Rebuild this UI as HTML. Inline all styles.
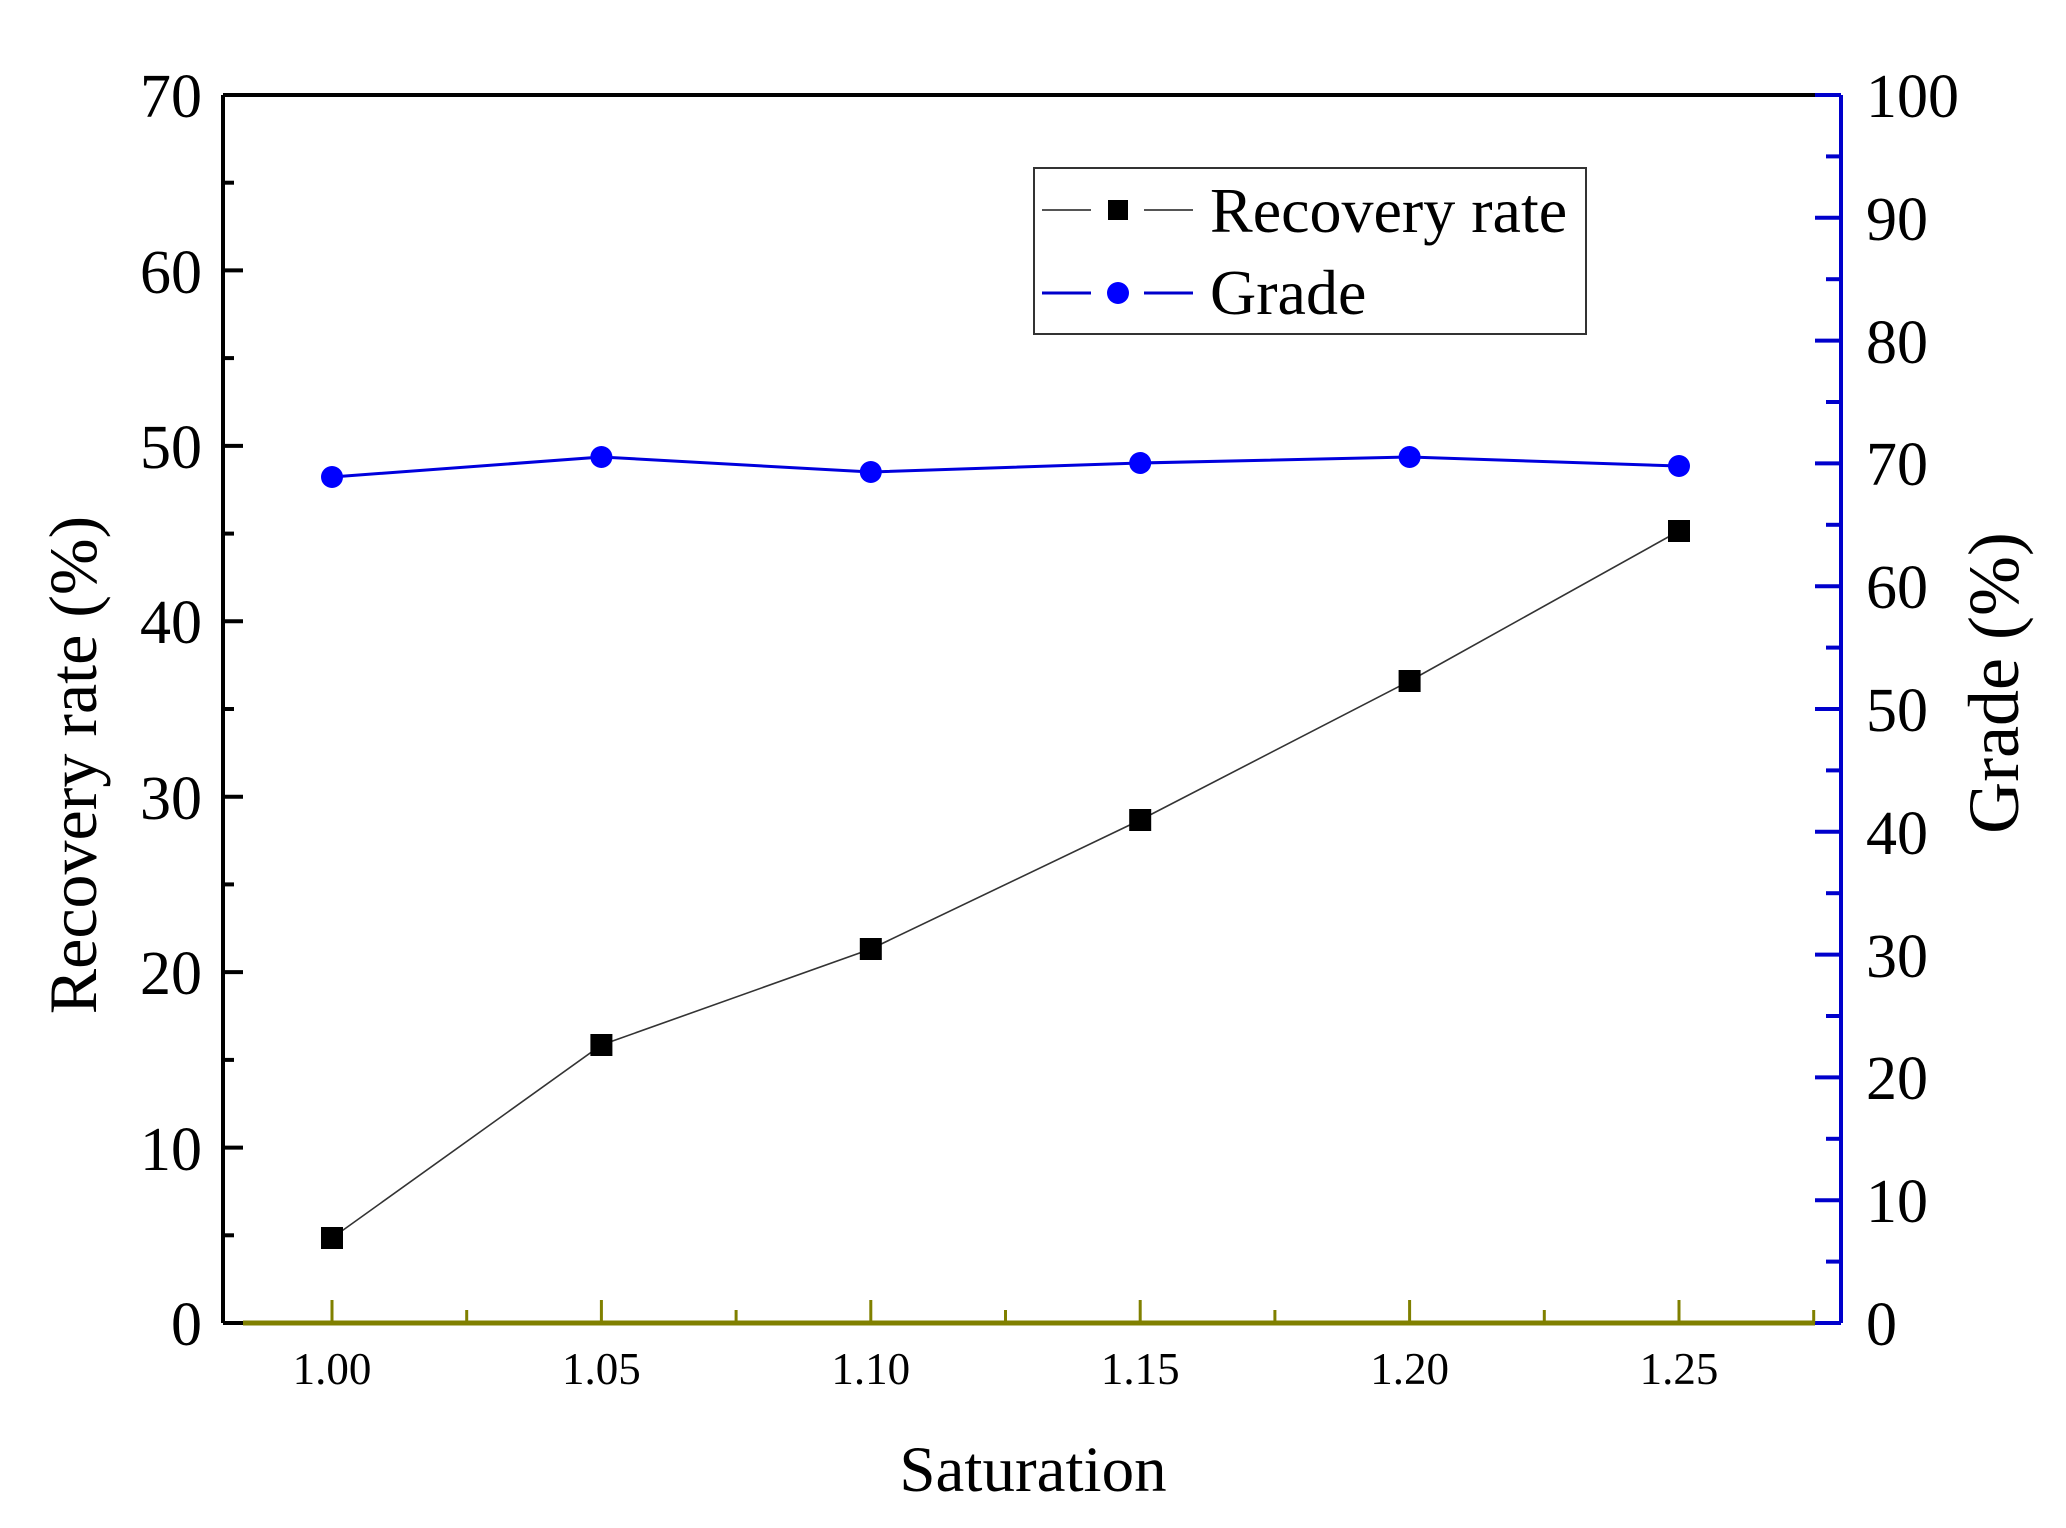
<!DOCTYPE html>
<html><head><meta charset="utf-8"><style>html,body{margin:0;padding:0;background:#fff}svg{display:block}</style></head>
<body>
<svg width="2066" height="1528" viewBox="0 0 2066 1528" xmlns="http://www.w3.org/2000/svg" font-family="Liberation Serif, serif">
<rect width="2066" height="1528" fill="#fff"/>
<g stroke="#000" stroke-width="4">
<line x1="223" y1="95" x2="1841" y2="95" stroke-width="4"/>
<line x1="223" y1="95" x2="223" y2="1323"/>
<line x1="223" y1="1323" x2="243" y2="1323"/>
<line x1="223" y1="1147.6" x2="243" y2="1147.6"/>
<line x1="223" y1="972.1" x2="243" y2="972.1"/>
<line x1="223" y1="796.7" x2="243" y2="796.7"/>
<line x1="223" y1="621.3" x2="243" y2="621.3"/>
<line x1="223" y1="445.9" x2="243" y2="445.9"/>
<line x1="223" y1="270.4" x2="243" y2="270.4"/>
<line x1="223" y1="1235.3" x2="234" y2="1235.3"/>
<line x1="223" y1="1059.9" x2="234" y2="1059.9"/>
<line x1="223" y1="884.4" x2="234" y2="884.4"/>
<line x1="223" y1="709" x2="234" y2="709"/>
<line x1="223" y1="533.6" x2="234" y2="533.6"/>
<line x1="223" y1="358.1" x2="234" y2="358.1"/>
<line x1="223" y1="182.7" x2="234" y2="182.7"/>
</g>
<g font-size="62" text-anchor="end" fill="#000">
<text x="202" y="1345">0</text><text x="202" y="1170">10</text><text x="202" y="994">20</text>
<text x="202" y="819">30</text><text x="202" y="643">40</text><text x="202" y="468">50</text>
<text x="202" y="293">60</text><text x="202" y="117">70</text>
</g>
<g stroke="#0000cc" stroke-width="4">
<line x1="1841" y1="95" x2="1841" y2="1323"/>
<line x1="1815" y1="1323" x2="1841" y2="1323"/>
</g>
<g font-size="62" fill="#000">
<text x="1866" y="1345">0</text><text x="1866" y="1222">10</text><text x="1866" y="1099">20</text>
<text x="1866" y="977">30</text><text x="1866" y="854">40</text><text x="1866" y="731">50</text>
<text x="1866" y="608">60</text><text x="1866" y="485">70</text><text x="1866" y="363">80</text>
<text x="1866" y="240">90</text><text x="1866" y="117">100</text>
</g>
<line x1="243" y1="1323" x2="1815" y2="1323" stroke="#808000" stroke-width="5"/>
<g stroke="#808000" stroke-width="3">
<line x1="332" y1="1323" x2="332" y2="1300"/><line x1="601.4" y1="1323" x2="601.4" y2="1300"/>
<line x1="870.8" y1="1323" x2="870.8" y2="1300"/><line x1="1140.2" y1="1323" x2="1140.2" y2="1300"/>
<line x1="1409.6" y1="1323" x2="1409.6" y2="1300"/><line x1="1679" y1="1323" x2="1679" y2="1300"/>
<line x1="466.7" y1="1323" x2="466.7" y2="1310"/><line x1="736.1" y1="1323" x2="736.1" y2="1310"/>
<line x1="1005.5" y1="1323" x2="1005.5" y2="1310"/><line x1="1274.9" y1="1323" x2="1274.9" y2="1310"/>
<line x1="1544.3" y1="1323" x2="1544.3" y2="1310"/><line x1="1813.7" y1="1323" x2="1813.7" y2="1310"/>
</g>
<g font-size="45" text-anchor="middle" fill="#000">
<text x="332" y="1384">1.00</text><text x="601.4" y="1384">1.05</text><text x="870.8" y="1384">1.10</text>
<text x="1140.2" y="1384">1.15</text><text x="1409.6" y="1384">1.20</text><text x="1679" y="1384">1.25</text>
</g>
<text x="1033" y="1491" font-size="65" text-anchor="middle">Saturation</text>
<text transform="translate(96,765) rotate(-90)" font-size="68" text-anchor="middle">Recovery rate (%)</text>
<text transform="translate(2018,683) rotate(-90)" font-size="72" text-anchor="middle">Grade (%)</text>
<polyline points="332,1238 601.4,1045 870.8,949 1140.2,820 1409.6,681 1679,531" fill="none" stroke="#333" stroke-width="1.6"/>
<g fill="#000">
<rect x="321" y="1227" width="22" height="22"/><rect x="590.4" y="1034" width="22" height="22"/>
<rect x="859.8" y="938" width="22" height="22"/><rect x="1129.2" y="809" width="22" height="22"/>
<rect x="1398.6" y="670" width="22" height="22"/><rect x="1668" y="520" width="22" height="22"/>
</g>
<polyline points="332,477 601.4,457 870.8,472 1140.2,463 1409.6,457 1679,466" fill="none" stroke="#0000dd" stroke-width="3"/>
<g fill="#0000ff">
<circle cx="332" cy="477" r="11"/><circle cx="601.4" cy="457" r="11"/><circle cx="870.8" cy="472" r="11"/>
<circle cx="1140.2" cy="463" r="11"/><circle cx="1409.6" cy="457" r="11"/><circle cx="1679" cy="466" r="11"/>
</g>
<rect x="1034" y="168" width="552" height="166" fill="#fff" stroke="#333" stroke-width="2"/>
<line x1="1042" y1="210" x2="1091" y2="210" stroke="#555" stroke-width="2"/>
<line x1="1144" y1="210" x2="1193" y2="210" stroke="#555" stroke-width="2"/>
<rect x="1108" y="200" width="20" height="20" fill="#000"/>
<line x1="1042" y1="293" x2="1091" y2="293" stroke="#0000cc" stroke-width="3"/>
<line x1="1144" y1="293" x2="1193" y2="293" stroke="#0000cc" stroke-width="3"/>
<circle cx="1118" cy="293" r="11" fill="#0000ff"/>
<g font-size="64" fill="#000">
<text x="1210" y="232">Recovery rate</text>
<text x="1210" y="314">Grade</text>
</g>
<g stroke="#0000cc" stroke-width="4">
<line x1="1815" y1="1200.2" x2="1841" y2="1200.2"/><line x1="1815" y1="1077.4" x2="1841" y2="1077.4"/>
<line x1="1815" y1="954.6" x2="1841" y2="954.6"/><line x1="1815" y1="831.8" x2="1841" y2="831.8"/>
<line x1="1815" y1="709" x2="1841" y2="709"/><line x1="1815" y1="586.2" x2="1841" y2="586.2"/>
<line x1="1815" y1="463.4" x2="1841" y2="463.4"/><line x1="1815" y1="340.6" x2="1841" y2="340.6"/>
<line x1="1815" y1="217.8" x2="1841" y2="217.8"/><line x1="1815" y1="95" x2="1841" y2="95"/>
<line x1="1826" y1="1261.6" x2="1841" y2="1261.6"/><line x1="1826" y1="1138.8" x2="1841" y2="1138.8"/>
<line x1="1826" y1="1016" x2="1841" y2="1016"/><line x1="1826" y1="893.2" x2="1841" y2="893.2"/>
<line x1="1826" y1="770.4" x2="1841" y2="770.4"/><line x1="1826" y1="647.6" x2="1841" y2="647.6"/>
<line x1="1826" y1="524.8" x2="1841" y2="524.8"/><line x1="1826" y1="402" x2="1841" y2="402"/>
<line x1="1826" y1="279.2" x2="1841" y2="279.2"/><line x1="1826" y1="156.4" x2="1841" y2="156.4"/>
</g>
</svg>
</body></html>
